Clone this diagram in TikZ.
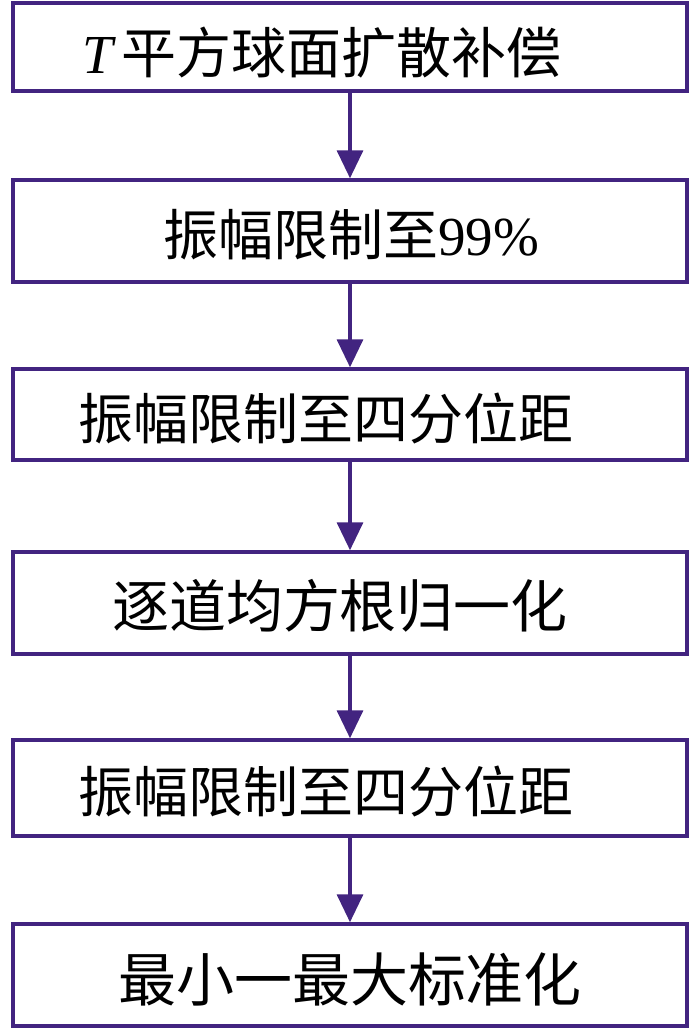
\documentclass[tikz,border=0pt]{standalone}
\usepackage{fontspec}
\setmainfont{Liberation Serif}
\newfontfamily\cjk{Noto Sans CJK SC}
\usetikzlibrary{arrows.meta}
\definecolor{boxpurple}{RGB}{66,36,128}
\tikzset{
  flowbox/.style={draw=boxpurple, line width=3.5pt, fill=white, rectangle, inner sep=0pt, minimum width=674pt},
  flowtext/.style={inner sep=0pt, font=\fontsize{55pt}{60pt}\selectfont, text=black},
  flowarrow/.style={draw=boxpurple, line width=3.5pt, -{Triangle[width=26pt,length=28pt]}}
}
\begin{document}
\begin{tikzpicture}[x=1pt,y=-1pt]
\useasboundingbox (0,0) rectangle (700,1029);
\node[flowbox, minimum height=88pt] (b1) at (350,47) {};
\node[flowbox, minimum height=102pt] (b2) at (350,231) {};
\node[flowbox, minimum height=91pt] (b3) at (350,414.5) {};
\node[flowbox, minimum height=102pt] (b4) at (350,603) {};
\node[flowbox, minimum height=96pt] (b5) at (350,788) {};
\node[flowbox, minimum height=102pt] (b6) at (350,975) {};
\node[flowtext] (t1) at (322,53) {\textit{T}\hspace{6pt}{\cjk 平方球面扩散补偿}};
\node[flowtext] (t2) at (351,235) {{\cjk 振幅限制至}99\%};
\node[flowtext] (t3) at (326,418) {\cjk 振幅限制至四分位距};
\node[flowtext, font=\fontsize{57pt}{60pt}\selectfont] (t4) at (340,606) {\cjk 逐道均方根归一化};
\node[flowtext] (t5) at (326,791) {\cjk 振幅限制至四分位距};
\node[flowtext, font=\fontsize{58pt}{60pt}\selectfont] (t6) at (350,979) {\cjk 最小一最大标准化};
\draw[flowarrow] (b1.south) -- (b2.north);
\draw[flowarrow] (b2.south) -- (b3.north);
\draw[flowarrow] (b3.south) -- (b4.north);
\draw[flowarrow] (b4.south) -- (b5.north);
\draw[flowarrow] (b5.south) -- (b6.north);
\end{tikzpicture}
\end{document}
